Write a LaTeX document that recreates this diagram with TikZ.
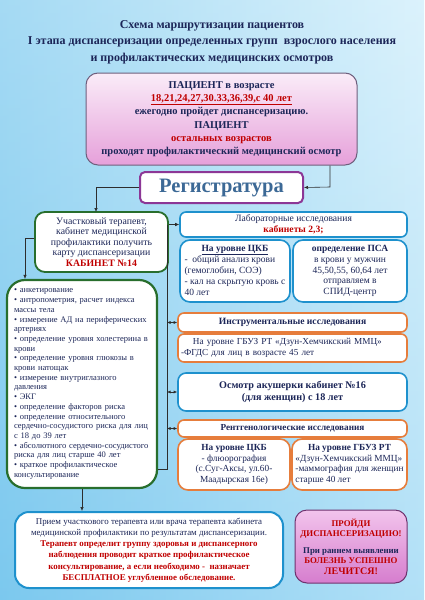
\documentclass[tikz,border=0pt]{standalone}
\usepackage{fontspec}
\setmainfont{Liberation Serif}
\usetikzlibrary{arrows.meta}
\definecolor{navy}{RGB}{28,38,88}
\definecolor{dred}{RGB}{192,0,0}
\definecolor{bblue}{RGB}{30,145,205}
\definecolor{orng}{RGB}{230,125,60}
\definecolor{grn}{RGB}{40,110,45}
\definecolor{purp}{RGB}{140,55,150}
\definecolor{steel}{RGB}{60,105,150}
\definecolor{bgl}{RGB}{135,206,240}
\definecolor{bgr}{RGB}{208,238,251}
\definecolor{bgb}{RGB}{90,185,235}
\definecolor{pinkt}{RGB}{250,236,248}
\definecolor{pinkb}{RGB}{230,160,218}
\definecolor{pink2t}{RGB}{242,196,236}
\definecolor{pink2b}{RGB}{214,125,206}
\definecolor{lin}{RGB}{45,45,45}
\begin{document}
\begin{tikzpicture}[x=1pt,y=-1pt,
 box/.style={rounded corners=6pt, fill=white, line width=1.6pt, inner sep=0pt, text=navy},
 bluebox/.style={box, draw=bblue},
 orbox/.style={box, draw=orng},
 conn/.style={draw=lin, line width=0.6pt},
 arr/.style={conn, -{Latex[length=4pt,width=3.5pt]}},
 darr/.style={conn, {Latex[length=3.5pt,width=3pt]}-{Latex[length=3.5pt,width=3pt]}},
]
\shade[left color=bgl, right color=bgr] (0,0) rectangle (424,600);
\shade[top color=white, bottom color=bgb, opacity=0.25] (0,0) rectangle (424,600);
\useasboundingbox (0,0) rectangle (424,600);

\node[font=\fontsize{12}{16.5}\selectfont\bfseries, text=navy, align=center] (title) at (212,42)
 {Схема маршрутизации пациентов\\I этапа диспансеризации определенных групп\ \ взрослого населения\\и профилактических медицинских осмотров};

\node[box, draw={rgb,255:red,110;green,95;blue,125}, line width=1pt, rounded corners=12pt,
 top color=pinkt, bottom color=pinkb, minimum width=271pt, minimum height=92pt, align=center,
 font=\fontsize{10.5}{13.3}\selectfont\bfseries] (patient) at (221.5,119)
 {ПАЦИЕНТ в возрасте\\\textcolor{dred}{\underline{18,21,24,27,30.33,36,39,с 40 лет}}\\ежегодно пройдет диспансеризацию.\\ПАЦИЕНТ\\\textcolor{dred}{остальных возрастов}\\проходят профилактический медицинский осмотр};

\node[box, draw=purp, line width=2pt, rounded corners=5pt, minimum width=163pt, minimum height=31pt,
 text=steel, font=\fontsize{20.5}{22}\selectfont\bfseries] (reg) at (221.5,187.5) {Регистратура};

\node[box, draw=grn, line width=1.8pt, rounded corners=10pt, minimum width=133pt, minimum height=60pt,
 align=center, font=\fontsize{9.8}{10.4}\selectfont] (ther) at (101.5,242)
 {Участковый терапевт,\\кабинет медицинской\\профилактики получить\\карту диспансеризации\\\textcolor{dred}{\textbf{КАБИНЕТ №14}}};

\node[box, draw=grn, line width=2.2pt, rounded corners=18pt, minimum height=208pt, text width=140pt,
 inner xsep=5pt, align=left, font=\fontsize{8.5}{9.7}\selectfont] (list) at (82,384)
 {\hspace*{2pt}• анкетирование\\
  \hspace*{2pt}• антропометрия, расчет индекса\\
  \hspace*{2pt}массы тела\\
  \hspace*{2pt}• измерение АД на периферических\\
  \hspace*{2pt}артериях\\
  \hspace*{2pt}• определение уровня холестерина в\\
  \hspace*{2pt}крови\\
  \hspace*{2pt}• определение уровня глюкозы в\\
  \hspace*{2pt}крови натощак\\
  \hspace*{2pt}• измерение внутриглазного\\
  \hspace*{2pt}давления\\
  \hspace*{2pt}• ЭКГ\\
  \hspace*{2pt}• определение факторов риска\\
  \hspace*{2pt}• определение относительного\\
  \hspace*{2pt}сердечно-сосудистого риска для лиц\\
  \hspace*{2pt}с 18 до 39 лет\\
  \hspace*{2pt}• абсолютного сердечно-сосудистого\\
  \hspace*{2pt}риска для лиц старше 40 лет\\
  \hspace*{2pt}• краткое профилактическое\\
  \hspace*{2pt}консультирование};

\node[box, draw=bblue, line width=2pt, rounded corners=14pt, minimum width=268pt, minimum height=76pt,
 align=center, font=\fontsize{8.9}{11.2}\selectfont] (bottom) at (149,550)
 {Прием участкового терапевта или врача терапевта кабинета\\медицинской профилактики по результатам диспансеризации.\\
  \textcolor{dred}{\textbf{Терапевт определит группу здоровья и диспансерного}}\\
  \textcolor{dred}{\textbf{наблюдения проводит краткое профилактическое}}\\
  \textcolor{dred}{\textbf{консультирование, а если необходимо -\ \ назначает}}\\
  \textcolor{dred}{\textbf{БЕСПЛАТНОЕ углубленное обследование.}}};

\node[box, draw={rgb,255:red,110;green,50;blue,110}, line width=1pt, rounded corners=12pt,
 top color=pink2t, bottom color=pink2b, minimum width=112pt, minimum height=73pt, align=center,
 font=\fontsize{8.8}{10.5}\selectfont\bfseries] (pinkbox) at (351,546.5)
 {\textcolor{dred}{ПРОЙДИ}\\\textcolor{dred}{ДИСПАНСЕРИЗАЦИЮ!}\\[6pt]При раннем выявлении\\\textcolor{dred}{БОЛЕЗНЬ УСПЕШНО}\\\textcolor{dred}{\fontsize{10}{12}\selectfont ЛЕЧИТСЯ!}};

\node[bluebox, minimum width=227pt, minimum height=25pt, align=center,
 font=\fontsize{9.6}{10.4}\selectfont] (labh) at (293.5,224.5)
 {Лабораторные исследования\\\textcolor{dred}{\textbf{кабинеты 2,3;}}};

\node[bluebox, rounded corners=10pt, minimum width=110pt, minimum height=62pt,
 font=\fontsize{9.5}{10.8}\selectfont] (labl) at (235,271)
 {\begin{tabular}{@{}l@{}}\multicolumn{1}{@{}c@{}}{\textbf{\underline{На уровне ЦКБ}}}\\-\ \ общий анализ крови\\(гемоглобин, СОЭ)\\- кал на скрытую кровь с\\40 лет\end{tabular}};

\node[bluebox, rounded corners=10pt, minimum width=114pt, minimum height=62pt, align=center,
 font=\fontsize{9.5}{10.8}\selectfont] (labr) at (350,271)
 {\textbf{определение ПСА}\\в крови у мужчин\\45,50,55, 60,64 лет\\отправляем в\\СПИД-центр};

\node[orbox, minimum width=229pt, minimum height=19pt,
 font=\fontsize{9.6}{10}\selectfont\bfseries] (insth) at (292.5,322.5) {Инструментальные исследования};

\node[orbox, minimum height=28pt, text width=223pt, inner xsep=3pt, align=left,
 font=\fontsize{9.2}{11}\selectfont] (insts) at (292.5,348)
 {\hspace*{1.3em}На уровне ГБУЗ РТ «Дзун-Хемчикский ММЦ»\\-ФГДС для лиц в возрасте 45 лет};

\node[bluebox, rounded corners=8pt, minimum width=229pt, minimum height=38pt, align=center,
 font=\fontsize{10.2}{12.5}\selectfont\bfseries] (osm) at (292.5,392)
 {Осмотр акушерки кабинет №16\\(для женщин) с 18 лет};

\node[orbox, minimum width=229pt, minimum height=17pt,
 font=\fontsize{9.2}{10}\selectfont\bfseries] (renh) at (292.5,428.5) {Рентгенологические исследования};

\node[orbox, rounded corners=10pt, minimum width=112pt, minimum height=51pt, align=center,
 font=\fontsize{9.3}{10.5}\selectfont] (renl) at (234,464.5)
 {\textbf{На уровне ЦКБ}\\- флюорография\\(с.Суг-Аксы, ул.60-\\Маадырская 16е)};

\node[orbox, rounded corners=10pt, minimum width=115pt, minimum height=51pt,
 font=\fontsize{9.3}{10.5}\selectfont] (renr) at (349.5,464.5)
 {\begin{tabular}{@{}l@{}}\multicolumn{1}{@{}c@{}}{\textbf{На уровне ГБУЗ РТ}}\\«Дзун-Хемчикский ММЦ»\\-маммография для женщин\\старше 40 лет\end{tabular}};

% connectors
\coordinate (c1) at (330,187);
\draw[arr] (patient.south -| c1) -- (c1) -- (reg.east);
\coordinate (c2) at (96,212);
\draw[arr] (reg.west) -| (c2);
\draw[arr] (ther.east |- labh.west) -- (labh.west);
\coordinate (v1) at (167,224.5);
\coordinate (v2) at (167,469);
\draw[conn] (v1) -- (v2) -- (list.east |- v2);
\draw[darr] (v1 |- insth.west) -- (insth.west);
\draw[darr] (v1 |- osm.west) -- (osm.west);
\draw[darr] (v1 |- renh.west) -- (renh.west);
\coordinate (c3) at (25,238);
\draw[arr] (ther.west |- c3) -- (c3) -- (c3 |- list.north);
\draw[arr] (list.south) -- (list.south |- bottom.north);
\end{tikzpicture}
\end{document}
